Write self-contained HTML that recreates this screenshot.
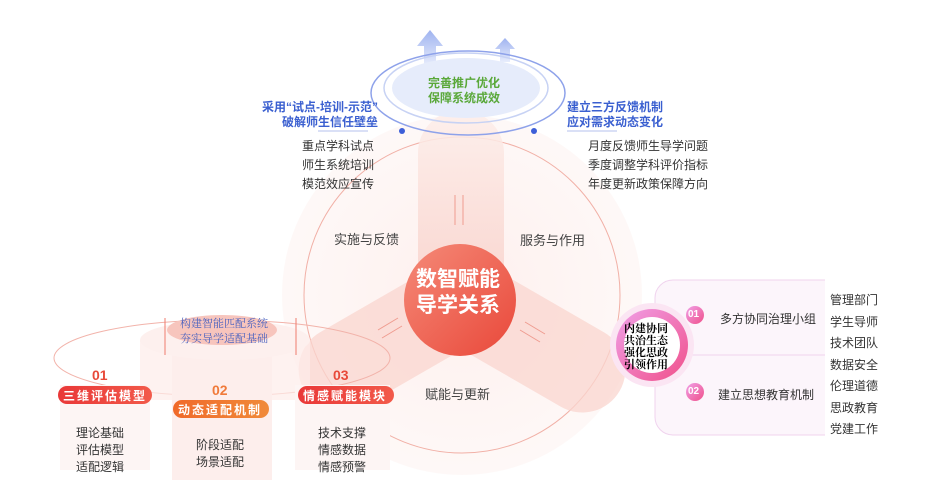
<!DOCTYPE html>
<html><head><meta charset="utf-8"><style>
body{margin:0;background:#fff;}
#c{position:relative;width:937px;height:493px;overflow:hidden;font-family:"Liberation Sans","Noto Sans CJK SC",sans-serif;}
.t{position:absolute;white-space:nowrap;}
</style></head><body><div id="c">
<svg width="937" height="493" style="position:absolute;left:0;top:0">
<defs>
<radialGradient id="bg" cx="50%" cy="50%" r="50%"><stop offset="0" stop-color="#fde3df"/><stop offset="1" stop-color="#fdf3f1"/></radialGradient>
<linearGradient id="cen" x1="0" y1="0" x2="1" y2="1"><stop offset="0" stop-color="#f58a78"/><stop offset="1" stop-color="#e9483a"/></linearGradient>
<linearGradient id="bl" x1="0" y1="0" x2="0" y2="1"><stop offset="0" stop-color="#fdeeea"/><stop offset="1" stop-color="#f8cfc8"/></linearGradient>
<linearGradient id="pk" x1="0" y1="0" x2="1" y2="1"><stop offset="0" stop-color="#f0a0e8"/><stop offset="1" stop-color="#f0508a"/></linearGradient>
<linearGradient id="ar" x1="0" y1="0" x2="0" y2="1"><stop offset="0" stop-color="#9fb3f0"/><stop offset="1" stop-color="#e8edfc"/></linearGradient>
<linearGradient id="rb" x1="0" y1="0" x2="1" y2="0"><stop offset="0" stop-color="#e93838"/><stop offset="1" stop-color="#f25a4a"/></linearGradient>
<linearGradient id="ob" x1="0" y1="0" x2="1" y2="0"><stop offset="0" stop-color="#f06a2a"/><stop offset="1" stop-color="#f08a3a"/></linearGradient>
</defs>
<circle cx="462" cy="295" r="180" fill="url(#bg)" opacity="0.55"/>
<circle cx="462" cy="295" r="158" fill="none" stroke="#f1b0a6" stroke-width="1"/>
<rect x="418" y="110" width="86" height="195" rx="43" fill="url(#bl)" opacity="0.85"/>
<g transform="rotate(120 462 300)"><rect x="419" y="118" width="86" height="190" rx="43" fill="#f9d6cf" opacity="0.75"/></g>
<g transform="rotate(-120 462 300)"><rect x="419" y="118" width="86" height="190" rx="43" fill="#f9d6cf" opacity="0.75"/></g>
<circle cx="460" cy="300" r="56" fill="url(#cen)"/>
<g stroke="#ef9c90" stroke-width="1" fill="none">
<line x1="455" y1="225" x2="455" y2="195"/><line x1="463" y1="195" x2="463" y2="225"/>
<line x1="378" y1="330" x2="398" y2="318"/><line x1="382" y1="338" x2="402" y2="326"/>
<line x1="525" y1="322" x2="545" y2="334"/><line x1="520" y1="330" x2="540" y2="342"/>
</g>
<polygon points="430,30 417,46 424,46 424,66 436,66 436,46 443,46" fill="url(#ar)"/>
<polygon points="505,38 495,49 500,49 500,62 510,62 510,49 515,49" fill="url(#ar)"/>
<ellipse cx="466" cy="88" rx="74" ry="30" fill="#e6ecfb"/>
<ellipse cx="466" cy="88" rx="82" ry="35" fill="none" stroke="#c7d2f4" stroke-width="1.5"/>
<ellipse cx="468" cy="93" rx="97" ry="42" fill="none" stroke="#8ea2ea" stroke-width="1.5"/>
<circle cx="402" cy="131" r="3" fill="#3d5fd8"/><circle cx="534" cy="131" r="3" fill="#3d5fd8"/>
<line x1="318" y1="131" x2="368" y2="131" stroke="#b5c2ee"/>
<line x1="567" y1="131" x2="617" y2="131" stroke="#b5c2ee"/>
<ellipse cx="222" cy="358" rx="168" ry="38" fill="none" stroke="#f2b3aa"/>
<rect x="60" y="385" width="90" height="85" fill="#fdf5f4"/>
<rect x="140" y="340" width="170" height="60" fill="#fdecea" opacity="0.7"/>
<rect x="172" y="350" width="100" height="130" fill="#fdeeec"/>
<ellipse cx="225" cy="340" rx="85" ry="20" fill="#fdf0ee"/>
<ellipse cx="222" cy="330" rx="55" ry="15" fill="#f7c5bd"/>
<line x1="165" y1="318" x2="165" y2="355" stroke="#ef7b6e"/>
<line x1="296" y1="318" x2="296" y2="355" stroke="#ef7b6e"/>
<rect x="295" y="385" width="95" height="85" fill="#fdf5f4"/>
<rect x="58" y="386" width="94" height="18" rx="9" fill="url(#rb)"/>
<rect x="173" y="400" width="96" height="18" rx="9" fill="url(#ob)"/>
<rect x="298" y="386" width="96" height="18" rx="9" fill="url(#rb)"/>
<rect x="655" y="280" width="200" height="78" rx="18" fill="#fcf5fb" stroke="#f0d3ee"/>
<rect x="655" y="355" width="200" height="80" rx="18" fill="#fcf5fb" stroke="#f0d3ee"/>
<rect x="825" y="278" width="80" height="165" fill="#fff"/>
<circle cx="652" cy="345" r="42" fill="#fbe5f3"/>
<circle cx="652" cy="345" r="36" fill="url(#pk)"/>
<circle cx="652" cy="345" r="28" fill="#fff"/>
<circle cx="695" cy="315" r="9" fill="url(#pk)"/>
<circle cx="695" cy="392" r="9" fill="url(#pk)"/>
</svg>
<div class="t" style="left:428px;top:76px;font-size:12px;line-height:15px;color:#5aa83a;font-weight:bold;text-align:center">完善推广优化<br>保障系统成效</div>
<div class="t" style="left:250px;top:100px;font-size:12px;line-height:15px;color:#3a5fd0;font-weight:bold;text-align:right">采用“试点-培训-示范”<br><span style="padding-left:32px">破解师生信任壁垒</span></div>
<div class="t" style="left:567px;top:100px;font-size:12px;line-height:15px;color:#3a5fd0;font-weight:bold">建立三方反馈机制<br>应对需求动态变化</div>
<div class="t" style="left:302px;top:137px;font-size:12px;line-height:19px;color:#333">重点学科试点<br>师生系统培训<br>模范效应宣传</div>
<div class="t" style="left:588px;top:137px;font-size:12px;line-height:19px;color:#333">月度反馈师生导学问题<br>季度调整学科评价指标<br>年度更新政策保障方向</div>
<div class="t" style="left:334px;top:229px;font-size:13px;color:#444">实施与反馈</div>
<div class="t" style="left:520px;top:230px;font-size:13px;color:#444">服务与作用</div>
<div class="t" style="left:425px;top:384px;font-size:13px;color:#444">赋能与更新</div>
<div class="t" style="left:416px;top:267px;font-size:21px;line-height:26px;color:#fff;font-weight:bold">数智赋能<br>导学关系</div>
<div class="t" style="left:180px;top:316px;font-size:11px;line-height:15px;color:#4a62c0;font-family:'Noto Serif CJK SC',serif">构建智能匹配系统<br>夯实导学适配基础</div>
<div class="t" style="left:92px;top:367px;font-size:14px;color:#e84a3a;font-weight:bold">01</div>
<div class="t" style="left:212px;top:382px;font-size:14px;color:#f07a3a;font-weight:bold">02</div>
<div class="t" style="left:333px;top:367px;font-size:14px;color:#e84a3a;font-weight:bold">03</div>
<div class="t" style="left:63px;top:387px;font-size:12px;color:#fff;font-weight:bold;letter-spacing:2px">三维评估模型</div>
<div class="t" style="left:178px;top:401px;font-size:12px;color:#fff;font-weight:bold;letter-spacing:2px">动态适配机制</div>
<div class="t" style="left:303px;top:387px;font-size:12px;color:#fff;font-weight:bold;letter-spacing:2px">情感赋能模块</div>
<div class="t" style="left:76px;top:425px;font-size:12px;line-height:17px;color:#333">理论基础<br>评估模型<br>适配逻辑</div>
<div class="t" style="left:196px;top:437px;font-size:12px;line-height:17px;color:#333">阶段适配<br>场景适配</div>
<div class="t" style="left:318px;top:425px;font-size:12px;line-height:17px;color:#333">技术支撑<br>情感数据<br>情感预警</div>
<div class="t" style="left:624px;top:322px;font-size:11px;line-height:12px;color:#000;font-weight:bold;font-family:'Noto Serif CJK SC',serif">内建协同<br>共治生态<br>强化思政<br>引领作用</div>
<div class="t" style="left:688px;top:309px;font-size:10px;color:#fff;font-weight:bold">01</div>
<div class="t" style="left:688px;top:386px;font-size:10px;color:#fff;font-weight:bold">02</div>
<div class="t" style="left:720px;top:310px;font-size:12px;color:#333">多方协同治理小组</div>
<div class="t" style="left:718px;top:386px;font-size:12px;color:#333">建立思想教育机制</div>
<div class="t" style="left:830px;top:290px;font-size:12px;line-height:21.5px;color:#333">管理部门<br>学生导师<br>技术团队<br>数据安全<br>伦理道德<br>思政教育<br>党建工作</div>
</div></body></html>
